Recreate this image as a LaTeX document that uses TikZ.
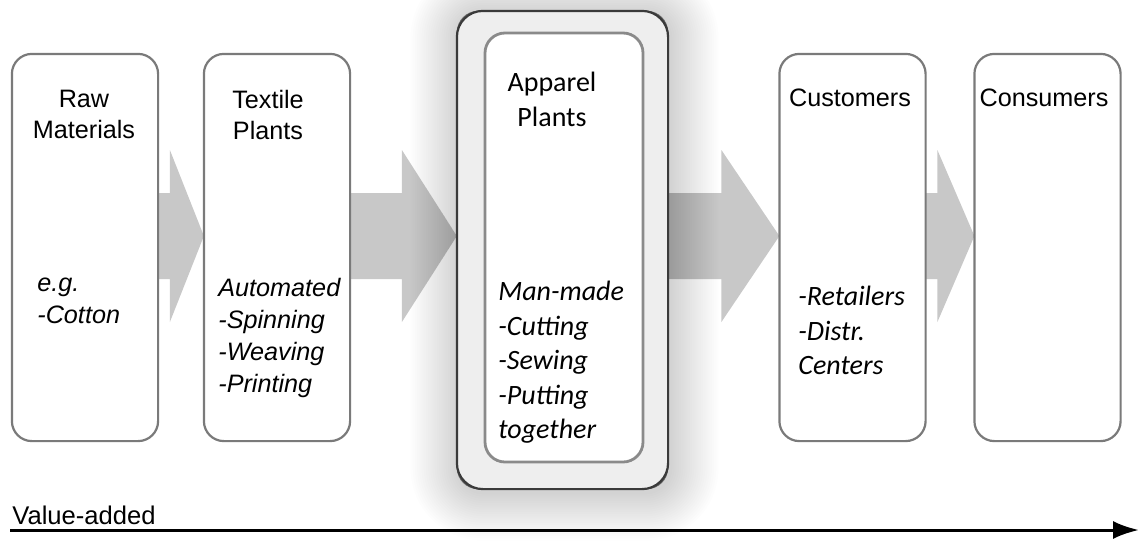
\documentclass[tikz,border=0pt]{standalone}
\usepackage{fontspec}
\setmainfont{Liberation Sans}
\newfontfamily\calfont{Carlito}
\usepackage{tikz}
\usetikzlibrary{arrows.meta,calc}
\definecolor{flowGray}{HTML}{C8C8C8}
\definecolor{boxEdge}{HTML}{7A7A7A}
\definecolor{plantEdge}{HTML}{3A3A3A}
\definecolor{plantFill}{HTML}{EEEEEE}
\definecolor{innerEdge}{HTML}{8A8A8A}

\tikzset{
  stagebox/.style={draw=boxEdge, line width=1.1pt, fill=white, rounded corners=10pt,
    minimum width=72pt, minimum height=192.5pt, inner sep=0pt},
  titletext/.style={anchor=north, inner sep=0pt, align=center,
    font=\fontsize{12.6}{15.5}\selectfont},
  notetext/.style={anchor=north west, inner sep=0pt, align=left,
    font=\fontsize{12.6}{16}\selectfont\itshape},
  caltitle/.style={anchor=north, inner sep=0pt, align=center,
    font=\calfont\fontsize{14}{17.5}\selectfont},
  calnote/.style={anchor=north west, inner sep=0pt, align=left,
    font=\calfont\fontsize{14}{17.2}\selectfont\itshape},
  flowfill/.style={fill=flowGray},
}

% block arrow: from, to, head length (px)
\newcommand\flowarrow[3]{%
  \fill[flowfill] ([shift={(-3,-43)}]#1.east |- row)
    -- ([shift={(-#3,-43)}]#2.west |- row)
    -- ([shift={(-#3,-86)}]#2.west |- row)
    -- (#2.west |- row)
    -- ([shift={(-#3,86)}]#2.west |- row)
    -- ([shift={(-#3,43)}]#2.west |- row)
    -- ([shift={(-3,43)}]#1.east |- row) -- cycle;}

\begin{document}
\begin{tikzpicture}[x=0.5pt,y=-0.5pt]
  \useasboundingbox (0,0) rectangle (1139,541);
  \coordinate (row) at (0,236);

  % stages (boxes placed first, arrows go under them)
  \path node[stagebox] (raw) at (85,247.5) {}
        node[stagebox] (textile) at (277,247.5) {}
        node[stagebox, minimum width=104.5pt, minimum height=238pt] (apparel) at (562.5,250) {}
        node[stagebox] (customers) at (852.5,247.5) {}
        node[stagebox] (consumers) at (1047.5,247.5) {};

  % flow arrows
  \flowarrow{raw}{textile}{34}
  \flowarrow{textile}{apparel}{55}
  \flowarrow{apparel}{customers}{58}
  \flowarrow{customers}{consumers}{37}

  % soft glow round the apparel plants
  \foreach \g in {1,...,22}
    \fill[black, opacity=0.0065, rounded corners=12pt+\g*1.1pt]
      ([shift={(-\g*2.2+2,-\g*2.2+3)}]apparel.north west)
      rectangle ([shift={(\g*2.2+2,\g*2.2+3)}]apparel.south east);

  % boxes on top
  \foreach \s in {raw,textile,customers,consumers}
    \draw[draw=boxEdge, line width=1.1pt, fill=white, rounded corners=10pt]
      (\s.north west) rectangle (\s.south east);
  \draw[draw=plantEdge, line width=1.1pt, fill=plantFill, rounded corners=13pt]
    (apparel.north west) rectangle (apparel.south east);
  \node[draw=innerEdge, line width=1.4pt, fill=white, rounded corners=10pt,
    minimum width=79pt, minimum height=214.5pt] (apparelInner) at (564,247.5) {};

  % labels
  \node[titletext] (rawTitle) at (84,90) {Raw\\Materials};
  \node[notetext] (rawNote) at (37,278) {e.g.\\-Cotton};
  \node[titletext] (textileTitle) at (268,90) {Textile\\Plants};
  \node[notetext] (textileNote) at (218,278) {Automated\\-Spinning\\-Weaving\\-Printing};
  \node[caltitle] (apparelTitle) at (552,72) {Apparel\\Plants};
  \node[calnote] (apparelNote) at (498,281) {Man-made\\-Cutting\\-Sewing\\-Putting\\together};
  \node[titletext] (customersTitle) at (850,88) {Customers};
  \node[calnote] (customersNote) at (798,286) {-Retailers\\-Distr.\\Centers};
  \node[titletext] (consumersTitle) at (1044,88) {Consumers};

  % value axis
  \coordinate (axisStart) at (10,530);
  \coordinate (axisEnd) at (1139,530);
  \draw[line width=1.5pt, -{Latex[length=13pt,width=9pt]}] (axisStart) -- (axisEnd);
  \node[anchor=south west, inner sep=0pt, font=\fontsize{12.8}{15}\selectfont]
    (valueLabel) at (12,525) {Value-added};
\end{tikzpicture}
\end{document}
